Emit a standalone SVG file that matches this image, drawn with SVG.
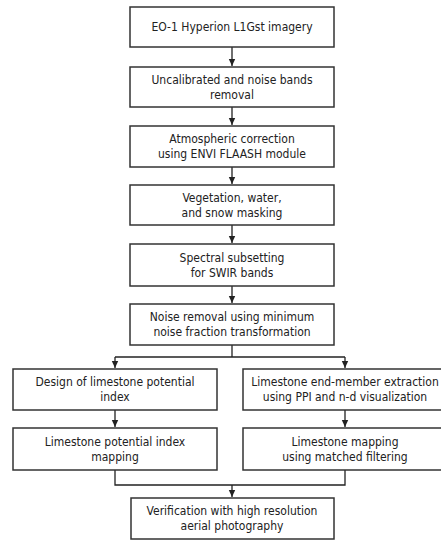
<svg xmlns="http://www.w3.org/2000/svg" width="441" height="540" viewBox="0 0 441 540">
<defs>
<marker id="ah" markerWidth="8" markerHeight="8" refX="7" refY="4" orient="auto" markerUnits="userSpaceOnUse">
<path d="M0,0.8 L7,4 L0,7.2 Z" fill="#222"/>
</marker>
<style>
.box{fill:#fff;stroke:#333;stroke-width:1.5}
.t{font-family:"DejaVu Sans Condensed","DejaVu Sans",sans-serif;font-size:12px;fill:#222;text-anchor:middle}
.c{fill:none;stroke:#222;stroke-width:1.3}
</style>
</defs>
<rect width="441" height="540" fill="#fff"/>
<g id="connectors">
<path class="c" d="M232,47 V66" marker-end="url(#ah)"/>
<path class="c" d="M232,107 V125" marker-end="url(#ah)"/>
<path class="c" d="M232,167 V184" marker-end="url(#ah)"/>
<path class="c" d="M232,225 V243" marker-end="url(#ah)"/>
<path class="c" d="M232,286 V303" marker-end="url(#ah)"/>
<path class="c" d="M232,345 V357"/>
<path class="c" d="M115,357 H345"/>
<path class="c" d="M115,357 V368" marker-end="url(#ah)"/>
<path class="c" d="M345,357 V368" marker-end="url(#ah)"/>
<path class="c" d="M115,410 V427" marker-end="url(#ah)"/>
<path class="c" d="M345,410 V427" marker-end="url(#ah)"/>
<path class="c" d="M115,470 V485 H345 V470"/>
<path class="c" d="M232,485 V497" marker-end="url(#ah)"/>
</g>
<g id="n1"><rect class="box" x="130" y="7" width="204" height="40"/><text class="t" x="232" y="31">EO-1 Hyperion L1Gst imagery</text></g>
<g id="n2"><rect class="box" x="130" y="67" width="204" height="40"/><text class="t" x="232" y="84">Uncalibrated and noise bands</text><text class="t" x="232" y="99">removal</text></g>
<g id="n3"><rect class="box" x="130" y="126" width="204" height="41"/><text class="t" x="232" y="143">Atmospheric correction</text><text class="t" x="232" y="158">using ENVI FLAASH module</text></g>
<g id="n4"><rect class="box" x="130" y="185" width="204" height="40"/><text class="t" x="232" y="202">Vegetation, water,</text><text class="t" x="232" y="217">and snow masking</text></g>
<g id="n5"><rect class="box" x="130" y="244" width="204" height="42"/><text class="t" x="232" y="262">Spectral subsetting</text><text class="t" x="232" y="277">for SWIR bands</text></g>
<g id="n6"><rect class="box" x="130" y="304" width="204" height="41"/><text class="t" x="232" y="321">Noise removal using minimum</text><text class="t" x="232" y="336">noise fraction transformation</text></g>
<g id="n7"><rect class="box" x="13" y="369" width="204" height="41"/><text class="t" x="115" y="386">Design of limestone potential</text><text class="t" x="115" y="401">index</text></g>
<g id="n8"><rect class="box" x="243" y="369" width="210" height="41"/><text class="t" x="345" y="386">Limestone end-member extraction</text><text class="t" x="345" y="401">using PPI and n-d visualization</text></g>
<g id="n9"><rect class="box" x="13" y="428" width="204" height="42"/><text class="t" x="115" y="446">Limestone potential index</text><text class="t" x="115" y="461">mapping</text></g>
<g id="n10"><rect class="box" x="243" y="428" width="210" height="42"/><text class="t" x="345" y="446">Limestone mapping</text><text class="t" x="345" y="461">using matched filtering</text></g>
<g id="n11"><rect class="box" x="131" y="498" width="203" height="41"/><text class="t" x="232" y="515">Verification with high resolution</text><text class="t" x="232" y="530">aerial photography</text></g>
</svg>
